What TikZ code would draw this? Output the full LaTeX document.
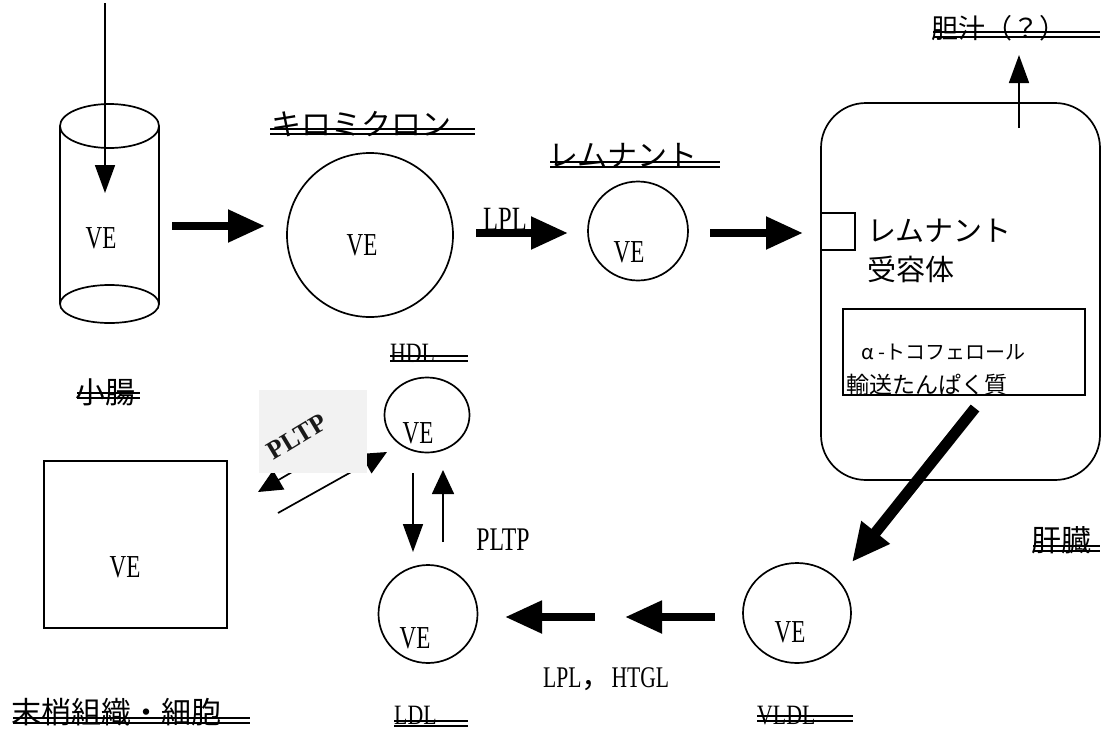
\documentclass[tikz,border=0pt]{standalone}
\usepackage{fontspec}
\setmainfont{Liberation Serif}
\newfontfamily\cjk{Noto Sans CJK JP}
\usetikzlibrary{arrows.meta,shapes.geometric}
\newcommand\nar[1]{\scalebox{0.72}[1]{#1}}
\newcommand\ulpair[3]{\draw[ul] (#1,#3) -- (#2,#3); \draw[ul] (#1,#3+5) -- (#2,#3+5);}
\begin{document}
\begin{tikzpicture}[x=1pt,y=-1pt,
  shp/.style={draw, line width=1.7pt},
  circ/.style={draw, ellipse, line width=1.7pt, inner sep=0pt},
  ul/.style={line width=1.3pt},
  jlbl/.style={inner sep=0pt, anchor=base west, font=\cjk\fontsize{30}{30}\selectfont},
  llbl/.style={inner sep=0pt, anchor=base west, font=\fontsize{28}{28}\selectfont},
  vetext/.style={inner sep=0pt, anchor=base, font=\fontsize{32}{32}\selectfont},
  bigar/.style={line width=8pt, -{Triangle[length=37pt,width=31pt]}},
  diagar/.style={line width=11pt, -{Triangle[length=38pt,width=34pt]}},
  thinar/.style={line width=1.7pt, -{Triangle[length=28pt,width=20pt]}},
  smallar/.style={line width=1.7pt, -{Triangle[length=24pt,width=22pt]}}
]
\useasboundingbox (0,0) rectangle (1111,731);

% ---------- small intestine (cylinder) ----------
\draw[shp] (60,126) -- (60,304);
\draw[shp] (159,126) -- (159,304);
\draw[shp] (109.5,126) ellipse [x radius=49.5, y radius=22];
\draw[shp] (109.5,304) ellipse [x radius=49.5, y radius=19];
\node[vetext] (ve1) at (101,248) {\nar{VE}};
\coordinate (in0) at (105,3);
\coordinate (in1) at (105,193);
\draw[thinar] (in0) -- (in1);
\node[jlbl] (l1) at (75,403) {小腸};
\ulpair{77}{140}{393}

% ---------- chylomicron ----------
\node[circ, minimum width=166pt, minimum height=164pt] (chylo) at (370,235) {};
\node[vetext] (ve2) at (362,255) {\nar{VE}};
\node[jlbl] (l2) at (271,135) {キロミクロン};
\ulpair{270}{475}{129}
\coordinate (a1s) at (172,226);
\coordinate (a1e) at (265,226);
\draw[bigar] (a1s) -- (a1e);

% ---------- remnant ----------
\node[circ, minimum width=100pt, minimum height=99pt] (rem) at (638,231) {};
\node[vetext] (ve3) at (629,262) {\nar{VE}};
\node[jlbl] (l3) at (548,166) {レムナント};
\ulpair{550}{720}{162}
\coordinate (a2s) at (476,233);
\coordinate (a2e) at (568,233);
\draw[bigar] (a2s) -- (a2e);
\node[inner sep=0pt, anchor=base, font=\fontsize{34}{34}\selectfont] (lpl) at (505,230) {\nar{LPL}};
\coordinate (a3s) at (710,233);
\coordinate (a3e) at (803,233);
\draw[bigar] (a3s) -- (a3e);

% ---------- liver ----------
\node[draw, line width=1.7pt, rounded corners=45pt, minimum width=279pt, minimum height=377pt, inner sep=0pt] (liver) at (960.5,291.5) {};
\draw[shp] (821,213) rectangle (855,250);
\node[inner sep=0pt, anchor=base west, font=\cjk\fontsize{29}{29}\selectfont] (rec1) at (867,241) {レムナント};
\node[inner sep=0pt, anchor=base west, font=\cjk\fontsize{29}{29}\selectfont] (rec2) at (867,280) {受容体};
\draw[shp] (843,309) rectangle (1085,395);
\node[inner sep=0pt, anchor=base west, font=\cjk\fontsize{20}{20}\selectfont] (ttp1) at (861,359) {α -トコフェロール};
\node[inner sep=0pt, anchor=base west, font=\cjk\fontsize{23}{23}\selectfont] (ttp2) at (846,393) {輸送たんぱく質};
\node[jlbl] (l4) at (1031,551) {肝臓};
\ulpair{1033}{1100}{546}

% bile
\coordinate (b0) at (1019,128);
\coordinate (b1) at (1019,55);
\draw[thinar] (b0) -- (b1);
\node[inner sep=0pt, anchor=base west, font=\cjk\fontsize{27}{27}\selectfont] (l5) at (931,38) {胆汁（？）};
\ulpair{933}{1100}{32}

% liver -> VLDL
\coordinate (d0) at (975,408);
\coordinate (d1) at (852,562);
\draw[diagar] (d0) -- (d1);

% ---------- VLDL ----------
\node[circ, minimum width=108pt, minimum height=100pt] (vldl) at (797,613) {};
\node[vetext] (ve4) at (790,642) {\nar{VE}};
\node[llbl] (l6) at (757,724) {\scalebox{0.78}[1]{VLDL}};
\ulpair{757}{853}{716}

% VLDL -> LDL arrows
\coordinate (h0) at (715,617);
\coordinate (h1) at (625,617);
\coordinate (h2) at (595,617);
\coordinate (h3) at (505,617);
\draw[bigar] (h0) -- (h1);
\draw[bigar] (h2) -- (h3);
\node[inner sep=0pt, anchor=base west, font=\fontsize{30}{30}\selectfont] (htgl) at (543,687) {\nar{LPL}{\cjk\fontsize{30}{30}\selectfont ，}\nar{HTGL}};

% ---------- LDL ----------
\node[circ, minimum width=99pt, minimum height=98pt] (ldl) at (428,614) {};
\node[vetext] (ve5) at (415,648) {\nar{VE}};
\node[llbl] (l7) at (394,724) {\scalebox{0.78}[1]{LDL}};
\ulpair{394}{468}{721}

% ---------- HDL ----------
\node[circ, minimum width=85pt, minimum height=75pt] (hdl) at (427,415) {};
\node[vetext] (ve6) at (418,443) {\nar{VE}};
\node[llbl] (l8) at (390,362) {\scalebox{0.78}[1]{HDL}};
\ulpair{390}{468}{356}

% HDL <-> LDL
\coordinate (v0) at (413,473);
\coordinate (v1) at (413,552);
\coordinate (v2) at (443,542);
\coordinate (v3) at (443,470);
\draw[thinar] (v0) -- (v1);
\draw[smallar] (v2) -- (v3);
\node[inner sep=0pt, anchor=base, font=\fontsize{33}{33}\selectfont] (pltp) at (503,550) {\nar{PLTP}};

% ---------- peripheral tissue ----------
\node[draw, line width=1.7pt, minimum width=183pt, minimum height=167pt, inner sep=0pt] (tissue) at (135.5,544.5) {};
\node[vetext] (ve7) at (125,577) {\nar{VE}};
\node[jlbl] (l9) at (11,723) {末梢組織・細胞};
\ulpair{13}{250}{718}

% PLTP picture arrows
\coordinate (p0) at (278,513);
\coordinate (p1) at (387,452);
\coordinate (p2) at (350,438);
\coordinate (p3) at (258,492);
\draw[smallar] (p0) -- (p1);
\draw[smallar] (p2) -- (p3);
\fill[black!5] (259,390) rectangle (367,473);
\node[inner sep=0pt, rotate=31, font=\bfseries\fontsize{26}{26}\selectfont, text=black!90] (pimg) at (297,437) {PLTP};
\end{tikzpicture}
\end{document}
